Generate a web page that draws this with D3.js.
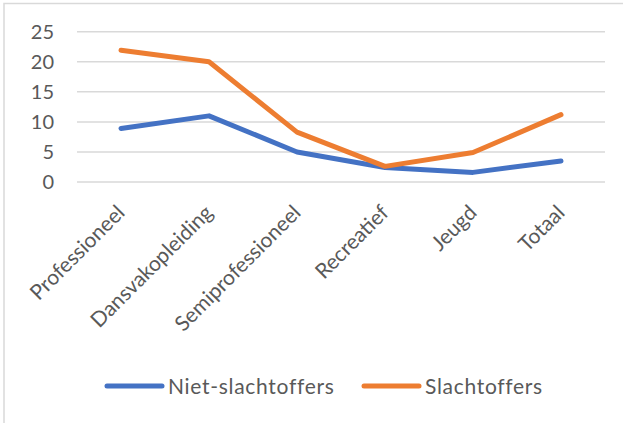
<!DOCTYPE html>
<html><head><meta charset="utf-8">
<script src="https://cdn.jsdelivr.net/npm/d3@7"></script>
<style>body{margin:0;background:#fff}svg{display:block}</style>
</head><body>
<script>
const categories = ["Professioneel","Dansvakopleiding","Semiprofessioneel","Recreatief","Jeugd","Totaal"];
const nietSlachtoffers = [8.9, 11.0, 5.0, 2.4, 1.6, 3.5];
const slachtoffers = [21.9, 20.0, 8.3, 2.6, 4.9, 11.2];
const yTicks = [0,5,10,15,20,25];
const seriesNames = ["Niet-slachtoffers","Slachtoffers"];
const colors = ["#4472C4","#ED7D31"];

const W=623,H=423;
const svg=d3.select("body").append("svg").attr("width",W).attr("height",H);
const font="Lato, 'Open Sans', sans-serif";
// frame
svg.append("path").attr("d","M4,423 V3.5 H623").attr("fill","none").attr("stroke","#d9d9d9").attr("stroke-width",1.5);

const x=d3.scalePoint().domain(categories).range([77,605]).padding(0.5);
const y=d3.scaleLinear().domain([0,25]).range([182,31.7]);

svg.append("g").selectAll("line").data(yTicks).join("line")
 .attr("x1",77).attr("x2",605).attr("y1",d=>y(d)).attr("y2",d=>y(d))
 .attr("stroke","#d9d9d9").attr("stroke-width",1.5);

svg.append("g").selectAll("text").data(yTicks).join("text")
 .attr("x",54).attr("y",d=>y(d)).attr("dy","0.36em").attr("text-anchor","end")
 .attr("font-family",font).attr("font-size",20).attr("fill","#595959").text(d=>d);

svg.append("g").selectAll("text").data(categories).join("text")
 .attr("transform",d=>`translate(${x(d)+5},${214}) rotate(-45)`)
 .attr("text-anchor","end")
 .attr("font-family",font).attr("font-size",21).attr("fill","#595959").text(d=>d);

const line=d3.line().x((d,i)=>x(categories[i])).y(d=>y(d));
[nietSlachtoffers,slachtoffers].forEach((s,k)=>{
 svg.append("path").attr("d",line(s)).attr("fill","none").attr("stroke",colors[k])
  .attr("stroke-width",5).attr("stroke-linejoin","round").attr("stroke-linecap","round");
});

const leg=[{x:107,name:seriesNames[0],c:colors[0]},{x:364,name:seriesNames[1],c:colors[1]}];
leg.forEach(l=>{
 svg.append("line").attr("x1",l.x).attr("x2",l.x+55).attr("y1",386).attr("y2",386)
  .attr("stroke",l.c).attr("stroke-width",5).attr("stroke-linecap","round");
 svg.append("text").attr("x",l.x+61).attr("y",386).attr("dy","0.36em")
  .attr("letter-spacing",0.7)
  .attr("font-family",font).attr("font-size",21).attr("fill","#595959").text(l.name);
});
</script>
</body></html>
